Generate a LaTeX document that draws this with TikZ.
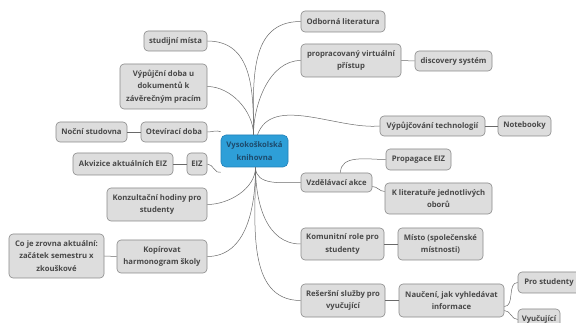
\documentclass[tikz,border=0pt]{standalone}
\usepackage{fontspec}
\setmainfont{Open Sans}
\definecolor{boxfill}{HTML}{DDDDDD}
\definecolor{boxdraw}{HTML}{8A8A8A}
\definecolor{boxtext}{HTML}{484848}
\definecolor{cfill}{HTML}{2E9FD8}
\definecolor{cdraw}{HTML}{2180B8}
\definecolor{ctext}{HTML}{1D4A6C}
\definecolor{lncol}{HTML}{6A6A6A}
\begin{document}
\begin{tikzpicture}[x=1pt,y=-1pt,
  bx/.style={draw=boxdraw,fill=boxfill,line width=0.6pt,rounded corners=4pt,
    text=boxtext,font=\fontsize{7.7}{12.5}\selectfont\bfseries,align=center,inner sep=1pt},
  ctr/.style={draw=cdraw,fill=cfill,line width=0.6pt,rounded corners=5pt,
    text=ctext,font=\fontsize{7.7}{12.5}\selectfont\bfseries,align=center,inner sep=1pt},
  ln/.style={draw=lncol,line width=0.5pt},
]
\useasboundingbox (0,0) rectangle (576,323);
\clip (0,0) rectangle (576,323);
\fill[white] (0,0) rectangle (576,323);

% center
\node[ctr,minimum width=67pt,minimum height=32pt] (c) at (254.5,151) {Vysokoškolská\\knihovna};

% left
\node[bx,minimum width=63pt,minimum height=20pt] (sm) at (175.5,41) {studijní místa};
\node[bx,minimum width=87pt,minimum height=45pt] (vd) at (163.5,86.5) {Výpůjční doba u\\dokumentů k\\závěrečným pracím};
\node[bx,minimum width=66pt,minimum height=20pt] (od) at (174,132) {Otevírací doba};
\node[bx,minimum width=71pt,minimum height=20pt] (ns) at (91.5,132) {Noční studovna};
\node[bx,minimum width=20pt,minimum height=22pt] (eiz) at (197,164) {EIZ};
\node[bx,minimum width=100pt,minimum height=22pt] (ak) at (123,164) {Akvizice aktuálních EIZ};
\node[bx,minimum width=100pt,minimum height=33pt] (kh) at (157,204.5) {Konzultační hodiny pro\\studenty};
\node[bx,minimum width=90pt,minimum height=33pt] (kp) at (162,256.5) {Kopírovat\\harmonogram školy};
\node[bx,minimum width=95pt,minimum height=44pt] (cj) at (56.5,256) {Co je zrovna aktuální:\\začátek semestru x\\zkouškové};

% right
\node[bx,minimum width=84pt,minimum height=21pt] (ol) at (343,21.5) {Odborná literatura};
\node[bx,minimum width=100pt,minimum height=33pt] (pv) at (351,60.5) {propracovaný virtuální\\přístup};
\node[bx,minimum width=77pt,minimum height=20pt] (ds) at (453.5,61) {discovery systém};
\node[bx,minimum width=105pt,minimum height=20pt] (vt) at (432.5,126) {Výpůjčování technologií};
\node[bx,minimum width=53pt,minimum height=20pt] (nb) at (524.5,126) {Notebooky};
\node[bx,minimum width=65pt,minimum height=21pt] (pe) at (418.5,159.5) {Propagace EIZ};
\node[bx,minimum width=71pt,minimum height=19pt] (va) at (336.5,182.5) {Vzdělávací akce};
\node[bx,minimum width=107pt,minimum height=31pt] (kl) at (438.5,198.5) {K literatuře jednotlivých\\oborů};
\node[bx,minimum width=83pt,minimum height=32pt] (kr) at (342.5,244) {Komunitní role pro\\studenty};
\node[bx,minimum width=85pt,minimum height=32pt] (mi) at (440.5,244) {Místo (společenské\\místnosti)};
\node[bx,minimum width=84pt,minimum height=33pt] (rs) at (343,300.5) {Rešeršní služby pro\\vyučující};
\node[bx,minimum width=105pt,minimum height=33pt] (na) at (451.5,300.5) {Naučení, jak vyhledávat\\informace};
\node[bx,minimum width=62pt,minimum height=21pt] (ps) at (549,282.5) {Pro studenty};
\node[bx,minimum width=42pt,minimum height=21pt] (vy) at (539,319.5) {Vyučující};

\coordinate (ct) at ([xshift=-1pt]c.north);
\coordinate (cb) at ([xshift=1pt]c.south);

% trunk connectors (top)
\draw[ln] (ct) to[out=90,in=0,looseness=1.1] (sm.east);
\draw[ln] (ct) to[out=90,in=0,looseness=0.9] (vd.east);
\draw[ln] (ct) to[out=90,in=180,looseness=1.1] (ol.west);
\draw[ln] (ct) to[out=90,in=180,looseness=0.9] (pv.west);
\draw[ln] ([xshift=4pt]ct) to[out=70,in=185,looseness=0.9] (vt.west);
\draw[ln] ([yshift=3pt]c.north west) to[out=160,in=0] (od.east);
\draw[ln] ([yshift=-5pt]c.south west) to[out=200,in=0] (eiz.east);
% bottom
\draw[ln] (cb) to[out=-90,in=0,looseness=0.9] (kh.east);
\draw[ln] (cb) to[out=-90,in=0,looseness=1.0] (kp.east);
\draw[ln] (cb) to[out=-90,in=180,looseness=1.0] (va.west);
\draw[ln] (cb) to[out=-90,in=180,looseness=1.0] (kr.west);
\draw[ln] (cb) to[out=-90,in=180,looseness=1.0] (rs.west);

% sub connectors
\draw[ln] (od.west) -- (ns.east);
\draw[ln] (eiz.west) -- (ak.east);
\draw[ln] (kp.west) -- (cj.east);
\draw[ln] (pv.east) -- (ds.west);
\draw[ln] (vt.east) -- (nb.west);
\draw[ln] (kr.east) -- (mi.west);
\draw[ln] (rs.east) -- (na.west);
\draw[ln] ([xshift=4pt]va.north) to[out=90,in=180] (pe.west);
\draw[ln] ([yshift=-4pt]va.east) to[out=0,in=180] ([yshift=7pt]kl.west);
\draw[ln] ([yshift=-6pt]na.east) to[out=0,in=180] (ps.west);
\draw[ln] ([yshift=-10pt]na.east) to[out=0,in=180] (vy.west);
\end{tikzpicture}
\end{document}
